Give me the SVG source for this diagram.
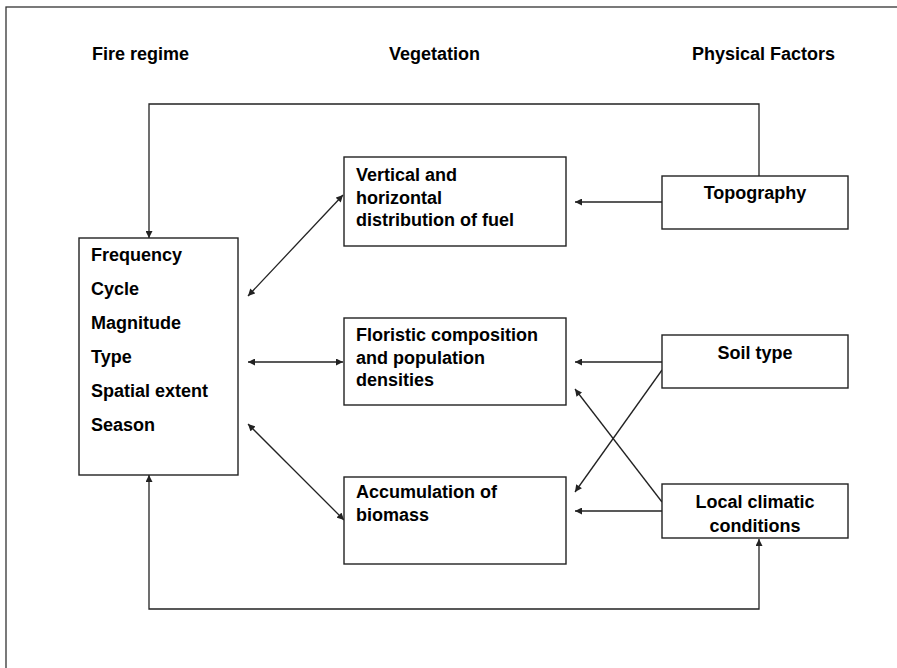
<svg xmlns="http://www.w3.org/2000/svg" width="897" height="668" viewBox="0 0 897 668">
<style>
text{font-family:"Liberation Sans",Arial,sans-serif;font-weight:bold;font-size:18px;fill:#000}
.box{fill:#fff;stroke:#222;stroke-width:1.4}
.ln{fill:none;stroke:#222;stroke-width:1.3}
.c{text-anchor:middle}
</style>
<defs>
<marker id="ah" viewBox="0 0 10 10" refX="10" refY="5" markerWidth="8" markerHeight="7" markerUnits="userSpaceOnUse" orient="auto-start-reverse">
<path d="M0,0 L10,5 L0,10 z" fill="#222"/>
</marker>
</defs>
<rect x="0" y="0" width="897" height="668" fill="#fff"/>
<rect x="6" y="7" width="1000" height="1000" fill="none" stroke="#333" stroke-width="1.3"/>
<g id="headers">
<text x="92" y="60">Fire regime</text>
<text x="389" y="60">Vegetation</text>
<text x="692" y="60">Physical Factors</text>
</g>
<g id="connectors">
<polyline class="ln" points="759,176 759,104 149,104 149,238" marker-end="url(#ah)"/>
<polyline class="ln" points="149,475 149,609 759,609 759,539" marker-start="url(#ah)" marker-end="url(#ah)"/>
<line class="ln" x1="248" y1="296" x2="343" y2="195" marker-start="url(#ah)" marker-end="url(#ah)"/>
<line class="ln" x1="248" y1="362" x2="343" y2="362" marker-start="url(#ah)" marker-end="url(#ah)"/>
<line class="ln" x1="248" y1="424" x2="344" y2="520" marker-start="url(#ah)" marker-end="url(#ah)"/>
<line class="ln" x1="662" y1="202" x2="575" y2="202" marker-end="url(#ah)"/>
<line class="ln" x1="662" y1="362" x2="575" y2="362" marker-end="url(#ah)"/>
<line class="ln" x1="662" y1="511" x2="575" y2="511" marker-end="url(#ah)"/>
<line class="ln" x1="662" y1="370" x2="575" y2="492" marker-end="url(#ah)"/>
<line class="ln" x1="662" y1="502" x2="575" y2="389" marker-end="url(#ah)"/>
</g>
<g id="fire-regime">
<rect class="box" x="79" y="238" width="159" height="237"/>
<text x="91" y="261">Frequency</text>
<text x="91" y="295">Cycle</text>
<text x="91" y="329">Magnitude</text>
<text x="91" y="363">Type</text>
<text x="91" y="397">Spatial extent</text>
<text x="91" y="431">Season</text>
</g>
<g id="fuel">
<rect class="box" x="344" y="157" width="222" height="89"/>
<text x="356" y="181">Vertical and</text>
<text x="356" y="204">horizontal</text>
<text x="356" y="226">distribution of fuel</text>
</g>
<g id="floristic">
<rect class="box" x="344" y="318" width="222" height="87"/>
<text x="356" y="341">Floristic composition</text>
<text x="356" y="364">and population</text>
<text x="356" y="386">densities</text>
</g>
<g id="biomass">
<rect class="box" x="344" y="477" width="222" height="87"/>
<text x="356" y="498">Accumulation of</text>
<text x="356" y="521">biomass</text>
</g>
<g id="topography">
<rect class="box" x="662" y="176" width="186" height="53"/>
<text class="c" x="755" y="199">Topography</text>
</g>
<g id="soil">
<rect class="box" x="662" y="335" width="186" height="53"/>
<text class="c" x="755" y="359">Soil type</text>
</g>
<g id="climate">
<rect class="box" x="662" y="484" width="186" height="54"/>
<text class="c" x="755" y="508">Local climatic</text>
<text class="c" x="755" y="532">conditions</text>
</g>
</svg>
